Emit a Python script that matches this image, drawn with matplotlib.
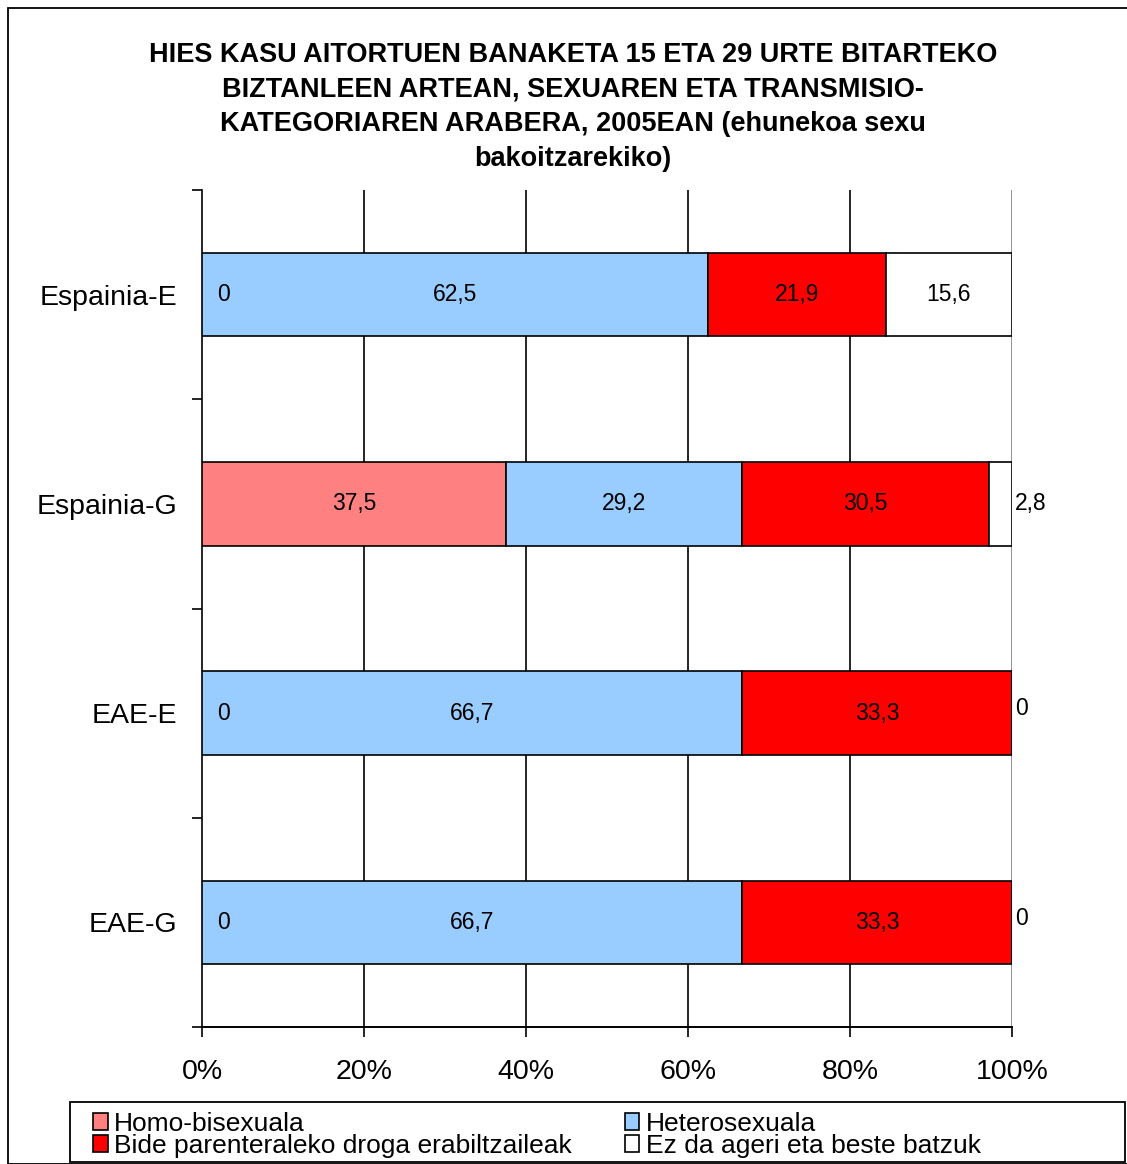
import matplotlib
matplotlib.use("Agg")
import matplotlib.pyplot as plt
from matplotlib.patches import Rectangle
import numpy as np

plt.rcParams['font.family'] = ['Liberation Sans', 'DejaVu Sans']

categories = ["Espainia-E", "Espainia-G", "EAE-E", "EAE-G"]
series_names = ["Homo-bisexuala", "Heterosexuala",
                "Bide parenteraleko droga erabiltzaileak", "Ez da ageri eta beste batzuk"]
homo = [0, 37.5, 0, 0]
hetero = [62.5, 29.2, 66.7, 66.7]
drug = [21.9, 30.5, 33.3, 33.3]
other = [15.6, 2.8, 0, 0]
labels = [["0", "37,5", "0", "0"],
          ["62,5", "29,2", "66,7", "66,7"],
          ["21,9", "30,5", "33,3", "33,3"],
          ["15,6", "2,8", "0", "0"]]
colors = ["#FF8080", "#99CCFF", "#FF0000", "#FFFFFF"]
xticks = [0, 20, 40, 60, 80, 100]
xticklabels = ["0%", "20%", "40%", "60%", "80%", "100%"]

W, H = 1127, 1164
fig = plt.figure(figsize=(W / 100, H / 100), dpi=100)
fig.patches.append(Rectangle((8 / W, 0), 1.2, (H - 8) / H, transform=fig.transFigure,
                             fill=False, edgecolor='black', linewidth=1.3))

ax = fig.add_axes([202 / W, 1 - 1027 / H, (1012 - 202) / W, (1027 - 190) / H])
y = np.arange(len(categories))
data = [homo, hetero, drug, other]
left = np.zeros(len(categories))
for s, (vals, col, name) in enumerate(zip(data, colors, series_names)):
    vals = np.array(vals, dtype=float)
    ax.barh(y, vals, left=left, height=0.4, color=col, edgecolor='black',
            linewidth=1.2, label=name, zorder=3)
    for i in range(len(categories)):
        v = vals[i]
        if v >= 5:
            xc = left[i] + v / 2
            ax.text(xc, y[i], labels[s][i], ha='center', va='center', fontsize=16.5, zorder=4)
        elif s == 0:
            ax.text(left[i] + 2.6, y[i], labels[s][i], ha='center', va='center', fontsize=16.5, zorder=4)
        else:
            ax.text(left[i] + v + 0.4, y[i] - 0.02 if v == 0 else y[i], labels[s][i],
                    ha='left', va='center', fontsize=16.5, zorder=4)
    left = left + vals

ax.set_xlim(0, 100)
ax.set_ylim(3.5, -0.5)
ax.set_xticks(xticks)
ax.set_xticklabels(xticklabels, fontsize=20.5)
ax.set_yticks(y)
ax.set_yticklabels(categories, fontsize=20.5)
ax.set_yticks(np.arange(-0.5, 4.0, 1.0), minor=True)
ax.tick_params(axis='y', which='major', length=0, pad=18)
ax.tick_params(axis='y', which='minor', length=7, width=1.2, direction='out')
ax.tick_params(axis='x', which='major', length=7, width=1.2, direction='out', pad=16)
for xv in xticks[1:-1]:
    ax.axvline(xv, color='black', linewidth=1.2, zorder=1)
ax.axvline(100, color='#808080', linewidth=1.2, zorder=1)
ax.spines['top'].set_visible(False)
ax.spines['right'].set_visible(False)
ax.spines['left'].set_linewidth(1.2)
ax.spines['bottom'].set_linewidth(1.4)

fig.text(573 / W, 1 - 107 / H,
         "HIES KASU AITORTUEN BANAKETA 15 ETA 29 URTE BITARTEKO\n"
         "BIZTANLEEN ARTEAN, SEXUAREN ETA TRANSMISIO-\n"
         "KATEGORIAREN ARABERA, 2005EAN (ehunekoa sexu\n"
         "bakoitzarekiko)",
         ha='center', va='center', fontsize=19.5, fontweight='bold', linespacing=1.42)

# legend frame
fig.patches.append(Rectangle((70 / W, 1 - 1162 / H), (1125 - 70) / W, 60 / H,
                             transform=fig.transFigure, fill=False,
                             edgecolor='black', linewidth=1.3))
handles, lbls = ax.get_legend_handles_labels()
order = [0, 2, 1, 3]
leg = fig.legend([handles[i] for i in order], [lbls[i] for i in order],
                 loc='center left', bbox_to_anchor=(93 / W, 1 - 1135 / H),
                 ncol=2, fontsize=19, frameon=False,
                 handlelength=0.55, handleheight=0.6, handletextpad=0.25,
                 borderpad=0.0, labelspacing=-0.08, columnspacing=2.0, borderaxespad=0)

fig.savefig("out.png", dpi=100)
